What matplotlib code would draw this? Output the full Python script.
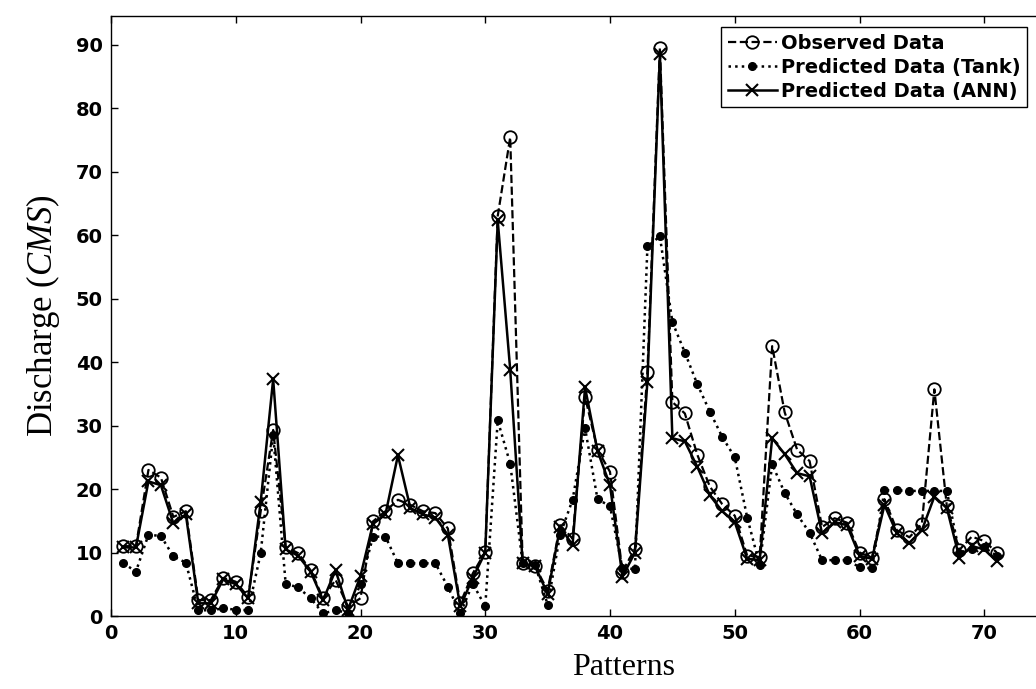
import matplotlib
matplotlib.use("Agg")
import matplotlib.pyplot as plt

plt.rcParams["mathtext.fontset"] = "custom"
plt.rcParams["mathtext.rm"] = "Liberation Serif"
plt.rcParams["mathtext.it"] = "Liberation Serif:italic"

# pattern index 1..71
patterns = list(range(1, 72))

observed = [11.0, 11.0, 23.0, 21.8, 15.6, 16.5, 2.5, 2.5, 6.0, 5.4,
            3.0, 16.5, 29.3, 10.9, 9.9, 7.2, 2.8, 5.7, 1.5, 2.8,
            14.9, 16.5, 18.3, 17.5, 16.5, 16.2, 13.8, 2.0, 6.7, 10.1,
            63.0, 75.4, 8.3, 7.8, 4.0, 14.3, 12.2, 34.5, 26.2, 22.7,
            7.0, 10.6, 38.5, 89.5, 33.7, 31.9, 25.4, 20.4, 17.6, 15.8,
            9.5, 9.3, 42.5, 32.1, 26.2, 24.4, 14.0, 15.4, 14.7, 10.0,
            9.2, 18.4, 13.5, 12.4, 14.5, 35.7, 17.3, 10.4, 12.5, 11.8,
            10.0]

tank = [8.3, 7.0, 12.8, 12.6, 9.4, 8.4, 0.9, 0.9, 1.2, 1.0,
        0.9, 9.9, 28.5, 5.1, 4.5, 2.8, 0.4, 0.9, 0.5, 5.0,
        12.5, 12.5, 8.3, 8.3, 8.3, 8.3, 4.6, 0.4, 5.1, 1.5,
        30.8, 24.0, 8.3, 8.0, 1.8, 12.8, 18.3, 29.6, 18.4, 17.3,
        7.5, 7.4, 58.2, 59.8, 46.3, 41.5, 36.5, 32.2, 28.2, 25.0,
        15.5, 8.0, 23.9, 19.4, 16.0, 13.1, 8.8, 8.8, 8.8, 7.7,
        7.5, 19.8, 19.8, 19.7, 19.7, 19.7, 19.7, 10.0, 10.5, 10.8,
        9.5]

ann = [10.8, 10.8, 21.2, 20.6, 14.6, 16.0, 2.0, 2.0, 5.8, 5.0,
       2.8, 18.0, 37.3, 10.5, 9.5, 7.0, 2.5, 7.2, 1.0, 6.3,
       14.5, 16.0, 25.3, 17.0, 16.0, 15.5, 12.8, 1.5, 6.0, 10.0,
       62.3, 38.8, 8.3, 7.8, 3.5, 14.0, 11.2, 36.0, 26.0, 20.6,
       6.2, 10.0, 36.9, 88.5, 28.0, 27.5, 23.5, 19.0, 16.5, 14.8,
       9.0, 8.8, 28.0, 25.5, 22.5, 22.0, 13.0, 14.8, 14.3, 9.5,
       9.0, 17.5, 13.0, 11.5, 13.5, 18.8, 17.0, 9.2, 11.0, 10.5,
       8.6]

xticks = [0, 10, 20, 30, 40, 50, 60, 70]
yticks = [0, 10, 20, 30, 40, 50, 60, 70, 80, 90]

W, H = 1036, 689
fig = plt.figure(figsize=(W / 100, H / 100), dpi=100)
# axes box in pixels: x0=111, y0 (data 0) at 616, top at 16, right runs past the edge
ax_l, ax_r, ax_b, ax_t = 111, 1109, 616, 16
ax = fig.add_axes([ax_l / W, (H - ax_b) / H, (ax_r - ax_l) / W, (ax_b - ax_t) / H])

ax.plot(patterns, observed, linestyle="--", color="black", linewidth=1.6,
        marker="o", markersize=9, markerfacecolor="none",
        markeredgecolor="black", markeredgewidth=1.3, label="Observed Data")
ax.plot(patterns, tank, linestyle=":", color="black", linewidth=1.8,
        marker="o", markersize=5.5, markerfacecolor="black",
        markeredgecolor="black", label="Predicted Data (Tank)")
ax.plot(patterns, ann, linestyle="-", color="black", linewidth=1.8,
        marker="x", markersize=9, markeredgewidth=1.5,
        label="Predicted Data (ANN)")

ax.set_xlim(0, 80)
ax.set_ylim(0, 94.5)
ax.set_xticks(xticks)
ax.set_yticks(yticks)
ax.tick_params(direction="in", length=5, width=1, top=True, right=True,
               labelsize=14, pad=6)
for lab in ax.get_xticklabels() + ax.get_yticklabels():
    lab.set_fontweight("bold")
    lab.set_family("DejaVu Sans")
for s in ax.spines.values():
    s.set_linewidth(1.0)

ax.set_xlabel("Patterns", family="Liberation Serif", fontsize=23)
ax.xaxis.set_label_coords((624 - ax_l) / (ax_r - ax_l), -0.062)
ax.set_ylabel(r"Discharge ($\mathit{CMS}$)", family="Liberation Serif",
              fontsize=25, labelpad=10)

leg = ax.legend(loc="upper right", bbox_to_anchor=(1027 / W, 1 - 27 / H),
                bbox_transform=fig.transFigure, frameon=True, fancybox=False,
                edgecolor="black", framealpha=1, borderpad=0.35,
                labelspacing=0.25, handlelength=2.5, handletextpad=0.2,
                borderaxespad=0, prop={"family": "DejaVu Sans",
                                       "weight": "bold", "size": 14})
leg.get_frame().set_linewidth(1.0)

fig.savefig("out.png", dpi=100)
